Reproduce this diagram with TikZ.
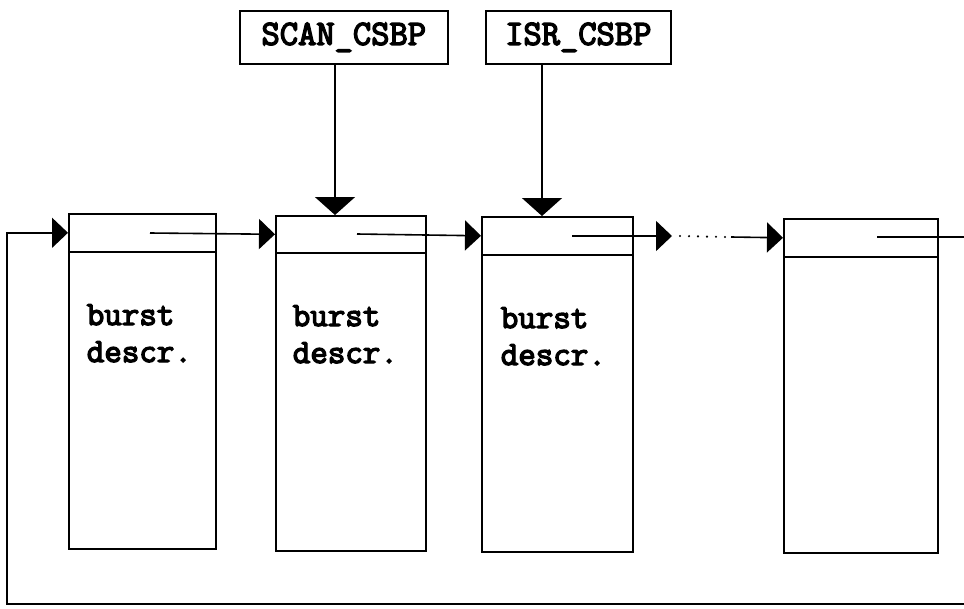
\documentclass[tikz,border=0pt]{standalone}
\usepackage{fontspec}
\newfontfamily\descfont[FakeBold=4]{Latin Modern Mono}
\usetikzlibrary{arrows.meta,calc}

\begin{document}
\begin{tikzpicture}[x=1pt,y=-1pt,line width=1.6pt,
  lbl/.style={draw,anchor=north west,inner sep=0pt,minimum height=53pt,
    font=\descfont\fontsize{35.5}{37}\selectfont},
  head/.style={draw,anchor=north west,inner sep=0pt,minimum height=38pt},
  body/.style={draw,anchor=north west,inner sep=0pt},
  txt/.style={anchor=base west,inner sep=0pt,
    font=\descfont\fontsize{34}{37}\selectfont},
  tri/.style={-{Triangle[length=16pt,width=30pt]}},
  down/.style={-{Triangle[length=18pt,width=40pt]}},
  dots/.style={line width=2.4pt,line cap=round,dash pattern=on 0pt off 9pt}]
\useasboundingbox (0,0) rectangle (964,608);
\clip (0,0) rectangle (964,608);

% pointer blocks: header cell + descriptor body
\node[head,minimum width=147pt] (h1) at (68,213) {};
\node[body,minimum width=147pt,minimum height=297pt] (d1) at (68,251) {};
\node[head,minimum width=150pt,minimum height=37pt] (h2) at (275,215) {};
\node[body,minimum width=150pt,minimum height=298pt] (d2) at (275,252) {};
\node[head,minimum width=151pt] (h3) at (481,216) {};
\node[body,minimum width=151pt,minimum height=297pt] (d3) at (481,254) {};
\node[head,minimum width=154pt] (h4) at (783,218) {};
\node[body,minimum width=154pt,minimum height=296pt] (d4) at (783,256) {};

% descriptor texts (two lines each)
\node[txt] (w1a) at (86,325) {burst};
\node[txt] (w1b) at (86,362) {descr.};
\node[txt] (w2a) at (292,326) {burst};
\node[txt] (w2b) at (292,363) {descr.};
\node[txt] (w3a) at (500,328) {burst};
\node[txt] (w3b) at (500,365) {descr.};

% pointer labels on top
\node[lbl,minimum width=208pt] (s1) at (239,10) {SCAN\_CSBP};
\node[lbl,minimum width=185pt] (s2) at (485,10) {ISR\_CSBP};
\coordinate (t2) at (335,215);
\coordinate (t3) at (542,216);
\draw[down] (t2 |- s1.south) -- (t2);
\draw[down] (t3 |- s2.south) -- (t3);

% next pointers
\coordinate (p1) at (150,233);
\coordinate (p2) at (357,234);
\coordinate (p3) at (572,236);
\coordinate (p4) at (877,237);
\coordinate (g1) at (672,236);
\coordinate (g2) at (731,237);
\draw[tri] (p1) -- (h2.west);
\draw[tri] (p2) -- (h3.west);
\draw[tri] (p3) -- (g1);
\draw[dots] ($(g1)+(8,0)$) -- ($(g2)+(-4,0)$);
\draw[tri] (g2) -- (h4.west);

% wrap-around link back to the first block
\coordinate (r0) at (990,237);
\coordinate (r1) at (990,604);
\coordinate (r2) at (7,604);
\draw[tri] (p4) -- (r0) -- (r1) -- (r2) -- (r2 |- h1.west) -- (h1.west);
\end{tikzpicture}
\end{document}
